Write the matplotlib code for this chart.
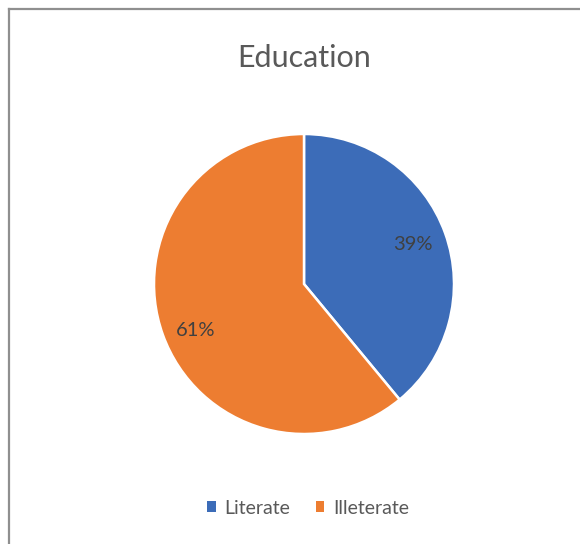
import matplotlib.pyplot as plt
from matplotlib.lines import Line2D
from matplotlib.patches import Patch

categories = ["Literate", "Illeterate"]
shares = [39, 61]
colors = ["#3C6CB8", "#ED7D31"]

plt.rcParams['font.family'] = ['Lato', 'DejaVu Sans']

W, H = 580, 544
fig = plt.figure(figsize=(W / 100, H / 100), dpi=100)
fig.patch.set_facecolor("white")

# chart frame (top and left edges only)
fig.add_artist(Line2D([9 / W, 1], [1 - 9 / H, 1 - 9 / H], color="#8f8f8f", lw=1.6))
fig.add_artist(Line2D([9 / W, 9 / W], [0, 1 - 9 / H], color="#8f8f8f", lw=1.6))

# pie area: centre (304, 284), radius 150 px
cx, cy, r = 304, 284, 150
ax = fig.add_axes([(cx - r) / W, (H - cy - r) / H, 2 * r / W, 2 * r / H])
wedges, texts, autotexts = ax.pie(
    shares, colors=colors, startangle=90, counterclock=False,
    autopct="%d%%", pctdistance=0.77,
    wedgeprops=dict(edgecolor="white", linewidth=1.8),
    textprops=dict(fontsize=14.5, color="#404040"),
)
# nudge the big slice label a little lower
x, y = autotexts[1].get_position()
autotexts[1].set_position((x, y - 0.05))
ax.set_xlim(-1.0, 1.0)
ax.set_ylim(-1.0, 1.0)
ax.set_aspect("equal")
ax.axis("off")

fig.text(cx / W, 1 - 58 / H, "Education", ha="center", va="center",
         fontsize=22, color="#595959")

handles = [Patch(facecolor=c, edgecolor="none") for c in colors]
fig.legend(handles, categories, loc="center", bbox_to_anchor=(308 / W, 1 - 508 / H),
           ncol=2, frameon=False, fontsize=14, labelcolor="#595959",
           handlelength=0.45, handleheight=0.45, handletextpad=0.45, columnspacing=1.3)

fig.savefig("out.png", dpi=100)
